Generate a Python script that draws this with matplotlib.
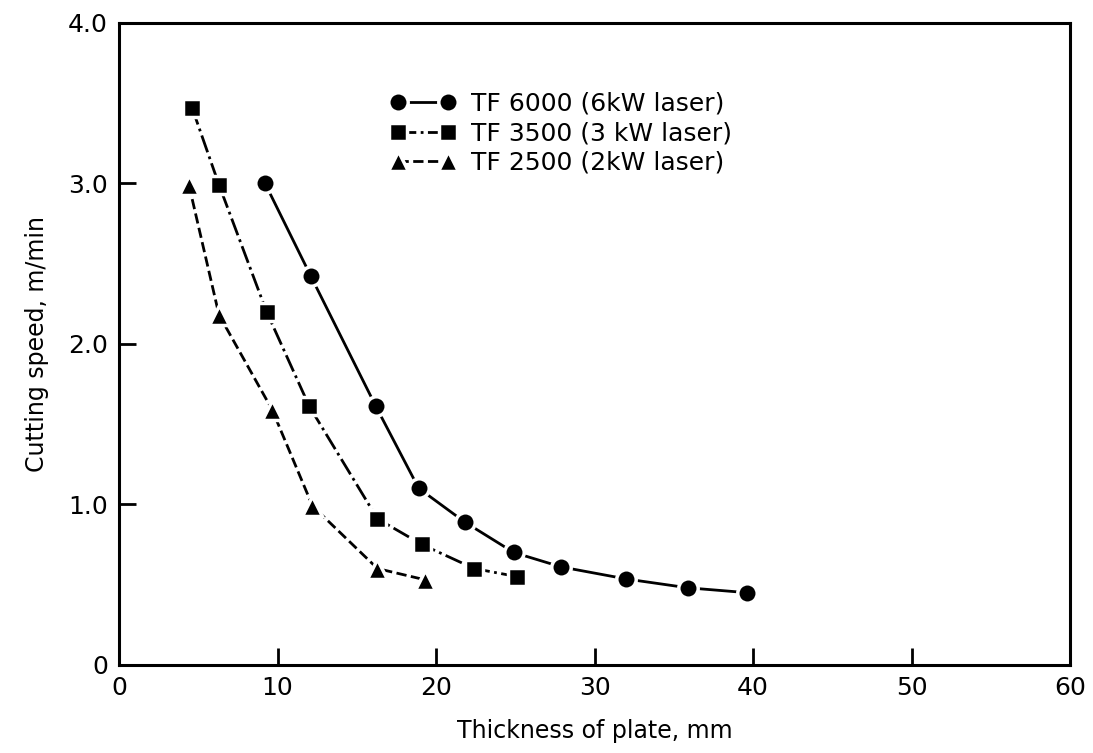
import matplotlib
matplotlib.use("Agg")
import matplotlib.pyplot as plt

# values
tf6000_x = [9.2, 12.1, 16.2, 18.9, 21.8, 24.9, 27.9, 32.0, 35.9, 39.6]
tf6000_y = [3.0, 2.42, 1.61, 1.10, 0.89, 0.70, 0.61, 0.535, 0.48, 0.45]
tf3500_x = [4.6, 6.3, 9.3, 12.0, 16.3, 19.1, 22.4, 25.1]
tf3500_y = [3.47, 2.99, 2.2, 1.61, 0.91, 0.75, 0.60, 0.55]
tf2500_x = [4.4, 6.3, 9.65, 12.2, 16.3, 19.3]
tf2500_y = [2.99, 2.18, 1.59, 0.99, 0.60, 0.53]

labels = ["TF 6000 (6kW laser)", "TF 3500 (3 kW laser)", "TF 2500 (2kW laser)"]
xticks = [0, 10, 20, 30, 40, 50, 60]
yticks = [0, 1.0, 2.0, 3.0, 4.0]
yticklabels = ["0", "1.0", "2.0", "3.0", "4.0"]

fsz = 17
fig = plt.figure(figsize=(10.93, 7.53), dpi=100)
ax = fig.add_axes([0.109, 0.117, 0.870, 0.853])

series = [
    (tf6000_x, tf6000_y, "-", "o", 14),
    (tf3500_x, tf3500_y, "-.", "s", 13),
    (tf2500_x, tf2500_y, "--", "^", 15),
]
for (xs, ys, ls, mk, ms), lab in zip(series, labels):
    ax.plot(xs, ys, linestyle=ls, color="black", lw=2.0,
            marker=mk, markersize=ms, markerfacecolor="black",
            markeredgecolor="white", markeredgewidth=2.5, label=lab)

ax.set_xlim(0, 60)
ax.set_ylim(0, 4.0)
ax.set_xticks(xticks)
ax.set_yticks(yticks)
ax.set_yticklabels(yticklabels)
ax.tick_params(direction="in", length=12, width=2, labelsize=18, pad=8)
for s in ax.spines.values():
    s.set_linewidth(2.2)

ax.set_xlabel("Thickness of plate, mm", fontsize=fsz, labelpad=14)
ax.set_ylabel("Cutting speed, m/min", fontsize=fsz, labelpad=14)

leg = ax.legend(loc="upper left", bbox_to_anchor=(0.262, 0.927), frameon=False,
                fontsize=18, handlelength=2.6, labelspacing=0.22,
                numpoints=2, handletextpad=0.6)

fig.savefig("out.png", dpi=100)
